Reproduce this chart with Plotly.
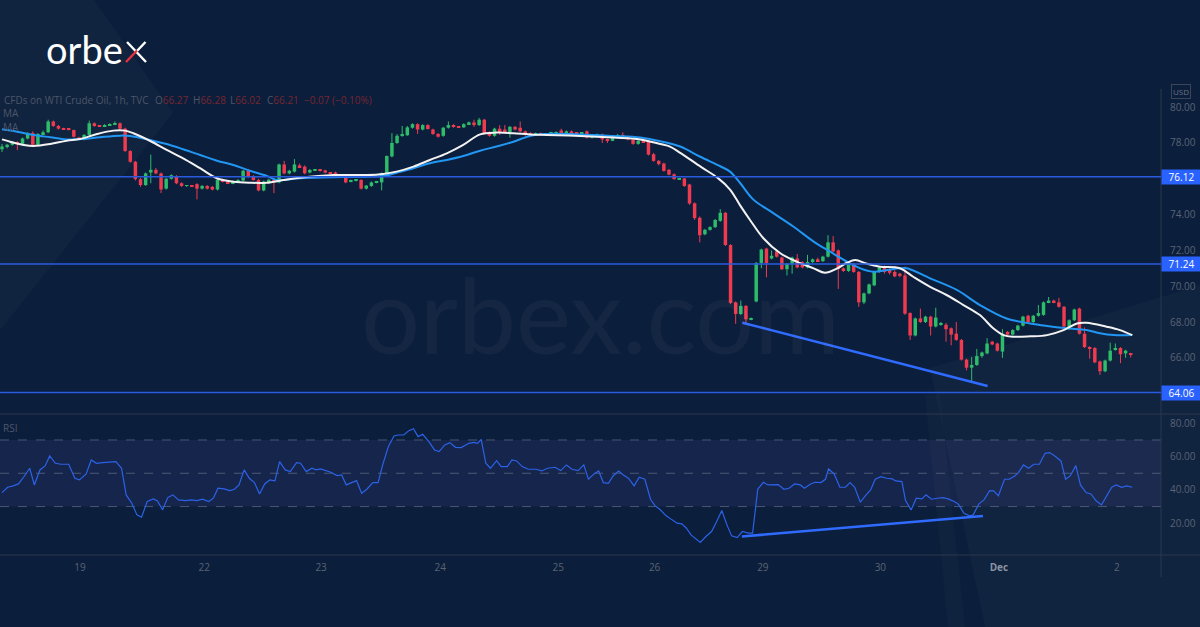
import plotly.graph_objects as go

W, H = 1200, 627
BG = '#0b1e3b'
GREEN = '#2ebd6b'
RED = '#ef3b50'
GREY = '#5a6475'
LEVEL_BLUE = '#2a5bdf'

# ---------------- data ----------------
opens = [77.65, 77.8, 77.9, 78.05, 77.95, 78.25, 78.55, 77.9, 78.5, 78.6,
         79.2, 78.95, 78.8, 78.78, 78.72, 78.3, 78.2, 78.45, 79.1, 78.97,
         78.93, 79.0, 79.03, 79.1, 78.8, 77.55, 76.95, 75.98, 75.65, 76.35,
         76.5, 76.3, 75.45, 76.0, 76.15, 75.75, 75.6, 75.62, 75.7, 75.45,
         75.6, 75.55, 75.4, 75.95, 75.85, 75.75, 75.85, 75.9, 76.45, 76.12,
         75.93, 75.35, 75.85, 75.95, 75.8, 76.8, 76.3, 76.4, 76.75, 76.68,
         76.35, 76.48, 76.5, 76.47, 76.33, 76.35, 76.22, 76.22, 75.85, 75.9,
         75.93, 75.45, 75.6, 75.8, 75.8, 76.3, 77.25, 78.0, 78.4, 78.43,
         78.85, 79.05, 78.75, 79.0, 78.75, 78.5, 78.4, 78.85, 79.0, 78.9,
         78.87, 79.05, 79.15, 79.0, 79.3, 78.6, 78.4, 78.8, 78.75, 78.6,
         78.9, 78.85, 78.65, 78.55, 78.48, 78.53, 78.45, 78.52, 78.56, 78.7,
         78.5, 78.65, 78.55, 78.52, 78.65, 78.3, 78.45, 78.48, 78.2, 78.12,
         78.35, 78.45, 78.35, 78.2, 77.95, 78.12, 78.1, 77.37, 77.0, 76.85,
         76.5, 76.25, 75.98, 76.02, 75.68, 74.63, 73.82, 72.9, 73.15, 73.3,
         73.65, 74.1, 72.3, 69.1, 68.45, 68.9, 68.15, 69.15, 71.3, 72.1,
         71.55, 71.95, 71.6, 70.95, 71.25, 71.55, 71.35, 71.05, 71.35, 71.5,
         71.4, 71.65, 72.45, 72.0, 71.0, 70.85, 71.25, 70.8, 69.1, 69.6,
         70.05, 70.8, 71.05, 70.9, 70.8, 70.7, 70.6, 68.5, 67.25, 68.2,
         68.0, 68.3, 67.75, 67.85, 67.85, 67.65, 67.35, 67.0, 65.9, 65.45,
         65.6, 66.1, 66.25, 66.9, 66.8, 66.35, 67.45, 67.3, 67.55, 67.8,
         68.35, 68.0, 68.35, 68.4, 69.1, 69.2, 69.1, 68.85, 67.6, 68.1,
         68.75, 67.35, 66.6, 66.55, 65.8, 65.25, 65.85, 66.45, 66.55, 66.25,
         66.27]
highs = [77.95, 77.95, 78.1, 78.1, 78.3, 78.6, 78.65, 78.55, 78.7, 79.3,
         79.25, 79.0, 78.85, 78.82, 78.75, 78.35, 78.5, 79.25, 79.15, 79.0,
         79.05, 79.1, 79.2, 79.15, 78.85, 77.6, 77.0, 76.05, 76.35, 77.35,
         76.6, 76.35, 76.05, 76.25, 76.2, 75.8, 75.65, 75.65, 75.75, 75.65,
         75.65, 75.6, 76.0, 76.0, 75.9, 75.9, 75.98, 76.5, 76.55, 76.2,
         76.0, 75.9, 76.0, 76.0, 76.85, 77.0, 76.5, 77.1, 76.85, 76.75,
         76.55, 76.55, 76.55, 76.5, 76.38, 76.4, 76.26, 76.25, 75.95, 75.98,
         75.98, 75.65, 75.85, 75.85, 76.35, 77.3, 78.55, 78.5, 78.95, 78.95,
         79.1, 79.1, 79.05, 79.05, 78.8, 78.55, 78.9, 79.2, 79.05, 78.95,
         79.1, 79.2, 79.3, 79.4, 79.35, 78.65, 78.85, 79.0, 79.0, 78.95,
         78.95, 79.2, 78.7, 78.6, 78.58, 78.58, 78.55, 78.62, 78.65, 78.8,
         78.7, 78.7, 78.58, 78.6, 78.7, 78.5, 78.52, 78.52, 78.25, 78.4,
         78.5, 78.6, 78.4, 78.25, 78.15, 78.2, 78.15, 77.45, 77.05, 76.9,
         76.55, 76.3, 76.05, 76.05, 75.72, 74.68, 73.9, 73.2, 73.35, 73.75,
         74.3, 74.15, 72.35, 69.15, 69.2, 68.95, 68.25, 71.35, 72.1, 72.15,
         72.0, 72.05, 71.65, 71.3, 71.65, 71.8, 71.4, 71.75, 71.55, 71.6,
         71.7, 72.85, 72.8, 72.05, 71.05, 71.3, 71.3, 70.85, 69.65, 70.15,
         70.85, 71.1, 71.15, 71.0, 70.9, 70.75, 71.1, 68.55, 68.25, 68.75,
         68.35, 68.35, 68.8, 68.0, 67.95, 67.7, 68.0, 67.05, 65.95, 66.05,
         66.5, 66.35, 67.1, 66.95, 66.85, 67.6, 67.5, 67.6, 67.85, 68.35,
         68.4, 68.4, 68.95, 69.15, 69.4, 69.25, 69.35, 68.9, 68.15, 68.75,
         68.8, 67.7, 66.65, 66.6, 65.85, 65.9, 66.85, 66.8, 66.6, 66.45,
         66.28]
lows = [77.5, 77.7, 77.85, 77.6, 77.9, 78.2, 77.85, 77.85, 78.45, 78.55,
        78.9, 78.75, 78.75, 78.7, 78.3, 78.18, 78.15, 78.4, 78.9, 78.9,
        78.9, 78.95, 79.0, 78.75, 77.5, 76.9, 75.9, 75.55, 75.6, 75.75,
        76.25, 75.2, 75.4, 75.95, 75.7, 75.55, 75.55, 75.55, 74.85, 75.4,
        75.4, 75.35, 75.35, 75.8, 75.7, 75.7, 75.8, 75.85, 76.05, 75.9,
        75.3, 75.3, 75.8, 75.2, 75.75, 76.25, 76.25, 76.35, 76.6, 76.25,
        76.3, 76.45, 76.4, 76.3, 76.28, 76.18, 76.17, 75.75, 75.8, 75.85,
        75.4, 75.4, 75.55, 75.75, 75.35, 76.25, 77.2, 77.95, 78.35, 78.4,
        78.8, 78.5, 78.7, 78.75, 78.45, 78.3, 78.35, 78.8, 78.85, 78.85,
        78.85, 79.0, 78.9, 78.95, 78.5, 78.35, 78.35, 78.45, 78.55, 78.3,
        78.7, 78.6, 78.4, 78.4, 78.45, 78.4, 78.4, 78.5, 78.5, 78.45,
        78.45, 78.5, 78.48, 78.48, 78.25, 78.25, 78.4, 78.0, 78.0, 78.1,
        78.3, 78.25, 78.15, 77.9, 77.9, 78.0, 77.3, 76.95, 76.75, 76.4,
        76.2, 75.95, 75.95, 75.55, 74.55, 73.7, 72.45, 72.85, 73.1, 73.25,
        73.6, 72.25, 69.0, 67.9, 68.4, 67.95, 68.1, 69.1, 71.0, 70.5,
        71.5, 71.6, 70.9, 70.6, 70.7, 71.0, 71.0, 71.0, 71.3, 71.35,
        71.35, 71.6, 71.9, 69.85, 70.8, 70.8, 70.75, 68.85, 69.0, 69.55,
        70.0, 70.75, 70.7, 70.65, 70.5, 70.5, 68.4, 67.0, 67.2, 67.95,
        67.95, 67.25, 67.7, 67.8, 66.9, 66.7, 66.95, 65.85, 65.3, 64.6,
        65.55, 66.0, 66.2, 66.7, 66.35, 66.0, 67.25, 67.25, 67.5, 67.75,
        67.95, 67.95, 68.3, 68.35, 69.05, 69.05, 68.8, 67.7, 67.55, 68.05,
        67.3, 66.55, 65.95, 65.7, 65.05, 65.2, 65.8, 66.4, 65.7, 66.0,
        66.02]
closes = [77.8, 77.9, 78.05, 77.95, 78.25, 78.5, 77.9, 78.5, 78.6, 79.2,
          78.95, 78.8, 78.78, 78.75, 78.35, 78.22, 78.45, 79.1, 78.95, 78.93,
          79.0, 79.05, 79.1, 78.8, 77.55, 76.95, 75.98, 75.65, 76.3, 76.5,
          76.3, 75.4, 76.0, 76.2, 75.75, 75.6, 75.62, 75.58, 75.45, 75.6,
          75.45, 75.4, 75.95, 75.85, 75.75, 75.85, 75.93, 76.45, 76.12, 75.93,
          75.35, 75.85, 75.95, 75.8, 76.8, 76.3, 76.45, 76.8, 76.65, 76.31,
          76.49, 76.52, 76.45, 76.35, 76.32, 76.22, 76.21, 75.8, 75.9, 75.93,
          75.45, 75.62, 75.8, 75.82, 76.3, 77.27, 78.0, 78.4, 78.47, 78.87,
          79.05, 78.75, 79.0, 78.78, 78.5, 78.35, 78.85, 79.0, 78.9, 78.87,
          79.05, 79.15, 79.0, 79.3, 78.55, 78.4, 78.8, 78.6, 78.6, 78.9,
          78.75, 78.65, 78.45, 78.48, 78.53, 78.45, 78.52, 78.58, 78.6, 78.5,
          78.65, 78.55, 78.52, 78.55, 78.3, 78.45, 78.48, 78.2, 78.12, 78.35,
          78.45, 78.3, 78.2, 77.95, 78.12, 78.05, 77.35, 77.0, 76.82, 76.44,
          76.23, 75.98, 76.02, 75.6, 74.62, 73.8, 72.85, 73.15, 73.3, 73.7,
          74.1, 72.3, 69.07, 68.45, 68.9, 68.15, 68.2, 71.3, 72.05, 71.3,
          71.7, 71.65, 70.95, 71.25, 71.6, 71.05, 71.05, 71.35, 71.5, 71.4,
          71.65, 72.45, 71.95, 70.97, 70.85, 71.25, 70.8, 69.1, 69.6, 70.1,
          70.8, 71.05, 70.8, 70.75, 70.55, 70.58, 68.47, 67.25, 68.2, 68.0,
          68.3, 67.75, 68.25, 67.95, 67.6, 67.3, 67.0, 65.9, 65.45, 65.6,
          66.1, 66.3, 66.8, 66.75, 66.4, 67.35, 67.3, 67.55, 67.8, 68.3,
          68.0, 68.35, 68.5, 69.1, 69.2, 69.1, 68.85, 67.75, 68.1, 68.7,
          67.35, 66.6, 66.5, 65.75, 65.25, 65.85, 66.4, 66.55, 66.2, 66.4,
          66.21]

# moving averages (bar position, value)
ma_fast_x = [0, 1.6, 4.2, 6.1, 9.4, 12.6, 15.2, 18.5, 21.7, 24, 25.6, 28.9, 32.1, 35.3,
             38.6, 41.9, 45.1, 48.3, 51.6, 54.8, 58.1, 64.6, 71.1, 74.3, 76.9, 80.2, 83.4,
             86.7, 89.9, 93.2, 96.4, 99.7, 102.9, 106.2, 112.7, 119.2, 124.4, 128.3, 130.2,
             132.2, 136.3, 139.5, 141.9, 143.9, 145.8, 148.4, 151.7, 154.9, 158.2, 160.4,
             162.7, 164.7, 166.3, 168.6, 171.1, 175, 177.6, 180.9, 184.1, 187.4, 190.6,
             193.2, 195.2, 197.1, 200.4, 203.7, 206.9, 209.5, 211.4, 215.3, 217.9, 220.3]
ma_fast_v = [78.2, 78.07, 77.89, 77.83, 77.94, 78.13, 78.22, 78.5, 78.69, 78.69, 78.54,
             78.11, 77.61, 77.14, 76.59, 76.03, 75.84, 75.78, 75.78, 75.93, 76.06, 76.21,
             76.21, 76.27, 76.4, 76.68, 77.05, 77.42, 77.89, 78.48, 78.58, 78.54, 78.48,
             78.45, 78.39, 78.3, 78.2, 77.94, 77.8, 77.45, 76.65, 76.05, 75.4, 74.5, 73.7,
             72.68, 71.84, 71.37, 71.0, 70.75, 70.98, 71.31, 71.46, 71.25, 71.09, 71.0,
             70.53, 69.97, 69.51, 68.95, 68.39, 67.65, 67.27, 67.18, 67.2, 67.27, 67.55,
             67.92, 67.96, 67.74, 67.55, 67.27]
ma_slow_x = [0, 2.9, 6.1, 9.4, 12.6, 15.8, 19.1, 23, 25, 28.8, 32.1, 35.3, 38.6, 41.9,
             45.1, 48.3, 51.6, 53.5, 54.8, 58.1, 64.6, 71.1, 74.3, 76.9, 80.2, 83.4, 86.7,
             89.9, 93.2, 96.4, 99.7, 102.9, 106.2, 112.7, 119.2, 124.4, 128.3, 132.2,
             136.1, 140, 141.9, 143.9, 146.4, 150.4, 154.3, 158.2, 161.4, 164.7, 167.3,
             169.8, 172.5, 175, 176.4, 180.9, 186.1, 190.6, 195.8, 200.4, 203.7, 207.6,
             211.4, 214, 216.7, 220.3]
ma_slow_v = [78.76, 78.63, 78.45, 78.32, 78.2, 78.22, 78.32, 78.41, 78.39, 78.17, 77.94,
             77.65, 77.33, 77.01, 76.77, 76.45, 76.16, 75.93, 75.93, 76.03, 76.08, 76.12,
             76.15, 76.34, 76.59, 76.87, 77.05, 77.27, 77.57, 77.8, 78.07, 78.39, 78.5,
             78.48, 78.39, 78.3, 78.1, 77.8, 77.23, 76.7, 76.4, 75.75, 74.85, 74.07, 73.32,
             72.49, 71.93, 71.37, 71.0, 70.81, 70.9, 71.0, 71.0, 70.44, 69.79, 68.95, 68.2,
             67.92, 67.78, 67.65, 67.55, 67.37, 67.27, 67.27]

rsi_x = [0, 1.1, 2.2, 3.2, 4.2, 5.4, 6.3, 7.4, 8.4, 9.3, 10.4, 11.5, 13, 14.2, 15.1, 16.4,
         17.4, 18.4, 19.6, 21.2, 22.2, 23.3, 24.2, 25.3, 26.3, 27.2, 28.3, 29.5, 30.3, 31.3,
         32.3, 33.3, 34.4, 35.8, 36.9, 38, 39.1, 40.3, 41.2, 42.1, 43.3, 44.4, 45.3, 46.2,
         47.2, 48.2, 49.2, 50.2, 51.2, 52.2, 53.2, 54.1, 55.2, 56.2, 57.4, 58.2, 59.3, 60.4,
         61.2, 62.1, 63.2, 64.1, 65.3, 66.2, 67.1, 68.1, 69.1, 70.1, 71.1, 72.3, 73.3, 74.2,
         75.3, 76.4, 77.2, 78.3, 79.3, 80.2, 81.1, 82, 83.2, 84.3, 85.2, 86.3, 87.3, 88.4,
         89.5, 91, 92, 92.7, 93.4, 94.3, 95.2, 96.4, 97.3, 98.5, 99.4, 100.3, 101.4, 102.6,
         104.1, 105.2, 106.3, 107.8, 108.9, 110, 111.1, 112.3, 113.4, 114.3, 115.4, 116.3,
         117.2, 118.2, 119.1, 120.2, 121.1, 122.1, 123.2, 124.2, 125.3, 126.4, 127.3, 128.2,
         129.4, 130.6, 131.6, 132.5, 133.4, 134.3, 135.3, 136.1, 137.2, 138.3, 139.3, 140.3,
         141.3, 142.2, 143.3, 144.3, 145.5, 146.3, 147.3, 148.4, 149.3, 150.4, 151.3, 152.4,
         153.4, 154.5, 155.6, 156.4, 157.6, 158.5, 159.6, 160.5, 161.1, 162.2, 163.3, 164.4,
         165.3, 166.2, 167.3, 168.3, 169.3, 170.2, 171.3, 172.4, 173.5, 174.2, 175.4, 176.1,
         177.2, 178.2, 179.3, 180.1, 181.2, 182.3, 183.4, 184.4, 185.6, 186.4, 187.5, 188.6,
         189.3, 190.4, 191.4, 192.5, 193.3, 194.2, 195.4, 196.3, 197.4, 198.1, 199.1, 200.1,
         201.1, 202.2, 203.3, 204.2, 205.2, 206.4, 207.3, 208.2, 209.3, 210.2, 211.3, 212.3,
         213.2, 214.3, 215.4, 216.3, 217.2, 218.2, 219.2, 220.3]
rsi_v = [38.4, 41.6, 42.4, 43.6, 47.6, 53, 43, 52, 54.4, 60.4, 56, 55.4, 55.4, 47, 46, 49.6,
         58, 56, 56.4, 57, 57, 53, 37, 32, 25, 23.6, 33, 34.6, 33.4, 28,
         35.4, 37, 34, 33.6, 34, 33.6, 34.4, 33, 35, 41, 40.6, 39.6, 40.4, 43,
         52, 47, 44.4, 37.6, 43.6, 46, 45.4, 57, 52, 51, 56.4, 56, 51, 53,
         52, 52.6, 51.6, 50.6, 48.6, 49, 43, 44.4, 45.6, 38, 40.4, 44.4, 44.4, 55,
         66, 72.4, 73, 73, 75.6, 76.8, 72, 73.4, 69, 64, 63, 67, 68.4, 65.6,
         65.4, 68, 68.6, 68, 70.4, 56, 53, 57.6, 54, 54, 58, 57.4, 54, 52.4,
         52.4, 51.4, 53, 53.6, 51.6, 55, 52.4, 51.6, 55, 46.4, 49.6, 51.4,
         44.4, 44, 48.4, 51.4, 49, 47, 42.4, 47.6, 46.4, 34.4, 30.4, 28.4,
         24.6, 22, 20, 19.6, 17, 13, 10.6, 8.4, 12, 15, 21, 27.6,
         19, 12.4, 11.4, 15, 14, 14, 40.4, 44.6, 43, 43, 43.2, 40.4,
         41, 43.6, 43, 41, 43.6, 44.6, 44.4, 46.4, 52.6, 49.6, 41.6, 41.6,
         44.4, 41.6, 32.6, 36.6, 40, 46.4, 48, 47, 46.6, 45.4, 45, 33.6,
         28, 35, 34.6, 37, 34.4, 35, 35.4, 34.6, 33, 31.4, 26, 24.4,
         25, 31.6, 34, 39.6, 39.4, 36.4, 46.4, 46.4, 48.4, 50.4, 55, 53,
         55.4, 55.4, 62, 62.4, 60.4, 57.4, 46.4, 48.4, 54.6, 43, 38.4, 37.4,
         33.6, 31, 36.6, 41.6, 43, 41.6, 42.4, 41.6]

levels = [76.12, 71.24, 64.06]
price_trend_x = [144.3, 192.1]
price_trend_v = [67.96, 64.43]
rsi_trend_x = [144.2, 191.2]
rsi_trend_v = [12.0, 24.4]

day_ticks = [15.2, 39.4, 62.2, 85.4, 108.4, 127.2, 148.3, 171.2, 194.3, 217.3]
day_labels = ['19', '22', '23', '24', '25', '26', '29', '30',
              "<b><span style='color:#8a93a3'>Dec</span></b>", '2']
price_ticks = [66, 68, 70, 72, 74, 78, 80]
rsi_ticks = [20, 40, 60, 80]

# ---------------- figure ----------------
def px(x):
    return x / W

def py(y):
    return 1 - y / H

n = len(closes)
idx = list(range(n))
up = [c >= o for o, c in zip(opens, closes)]
body_base = [min(o, c) for o, c in zip(opens, closes)]
body_h = [max(abs(c - o), 0.05) for o, c in zip(opens, closes)]
body_col = [GREEN if u else RED for u in up]

fig = go.Figure()

for sel, col in [(True, GREEN), (False, RED)]:
    wx, wy = [], []
    for i in idx:
        if up[i] == sel:
            wx += [i, i, None]
            wy += [lows[i], highs[i], None]
    fig.add_trace(go.Scatter(x=wx, y=wy, mode='lines', line=dict(color=col, width=1),
                             xaxis='x', yaxis='y', hoverinfo='skip'))

fig.add_trace(go.Bar(x=idx, y=body_h, base=body_base, width=0.68,
                     marker=dict(color=body_col, line=dict(width=0)),
                     xaxis='x', yaxis='y'))

fig.add_trace(go.Scatter(x=ma_slow_x, y=ma_slow_v, mode='lines', line_shape='spline',
                         line=dict(color='#2196f3', width=2), xaxis='x', yaxis='y'))
fig.add_trace(go.Scatter(x=ma_fast_x, y=ma_fast_v, mode='lines', line_shape='spline',
                         line=dict(color='#f2f2f2', width=2), xaxis='x', yaxis='y'))
fig.add_trace(go.Scatter(x=price_trend_x, y=price_trend_v, mode='lines',
                         line=dict(color='#2f6bff', width=2.5), xaxis='x', yaxis='y'))

fig.add_trace(go.Scatter(x=rsi_x, y=rsi_v, mode='lines',
                         line=dict(color='#2c62e8', width=1.2), xaxis='x2', yaxis='y2'))
fig.add_trace(go.Scatter(x=rsi_trend_x, y=rsi_trend_v, mode='lines',
                         line=dict(color='#2f6bff', width=2.5), xaxis='x2', yaxis='y2'))

XR = [-0.39, 225.9]
XD = [0, 1161 / W]
tickfont = dict(family='Open Sans, Liberation Sans, sans-serif', size=10, color=GREY)

fig.update_layout(
    width=W, height=H, margin=dict(l=0, r=0, t=0, b=0),
    paper_bgcolor=BG, plot_bgcolor='rgba(0,0,0,0)', template='none',
    showlegend=False, barmode='overlay',
    xaxis=dict(domain=XD, range=XR, anchor='y', visible=False, fixedrange=True),
    xaxis2=dict(domain=XD, range=XR, anchor='y2', showgrid=False, zeroline=False,
                showline=False, ticks='', tickvals=day_ticks, ticktext=day_labels,
                tickfont=tickfont, ticklabelstandoff=5, automargin=False),
    yaxis=dict(domain=[py(413), py(88)], range=[62.92, 81.07], anchor='x', side='right',
               showgrid=False, zeroline=False, showline=False, ticks='',
               tickvals=price_ticks, ticktext=['%.2f' % v for v in price_ticks],
               tickfont=tickfont, ticklabelstandoff=8, automargin=False),
    yaxis2=dict(domain=[py(555), py(414)], range=[0.9, 85.6], anchor='x2', side='right',
                showgrid=False, zeroline=False, showline=False, ticks='',
                tickvals=rsi_ticks, ticktext=['%.2f' % v for v in rsi_ticks],
                tickfont=tickfont, ticklabelstandoff=8, automargin=False),
)

shapes = []
# faint background decorations
shapes.append(dict(type='path', xref='paper', yref='paper', layer='below',
                   path=f'M 0,{py(0)} L {px(94)},{py(0)} L {px(173)},{py(113)} L 0,{py(330)} Z',
                   fillcolor='rgba(255,255,255,0.022)', line=dict(width=0)))
shapes.append(dict(type='path', xref='paper', yref='paper', layer='below',
                   path=f'M {px(930)},{py(368)} L 1,{py(285)} L 1,0 L {px(985)},0 Z',
                   fillcolor='rgba(255,255,255,0.025)', line=dict(width=0)))
shapes.append(dict(type='path', xref='paper', yref='paper', layer='below',
                   path=f'M {px(925)},{py(395)} L {px(940)},{py(395)} L {px(965)},0 L {px(948)},0 Z',
                   fillcolor='rgba(255,255,255,0.02)', line=dict(width=0)))
# RSI band and guides
shapes.append(dict(type='rect', xref='paper', yref='y2', x0=0, x1=XD[1], y0=30, y1=70,
                   fillcolor='rgba(126,110,220,0.10)', line=dict(width=0), layer='below'))
for v in [70, 50, 30]:
    shapes.append(dict(type='line', xref='paper', yref='y2', x0=0, x1=XD[1], y0=v, y1=v,
                       line=dict(color='rgba(130,140,160,0.5)', width=1, dash='dash'), layer='below'))
# pane separators / axis lines
sep = '#2b384d'
shapes.append(dict(type='line', xref='paper', yref='paper', x0=0, x1=1, y0=py(414), y1=py(414),
                   line=dict(color=sep, width=1)))
shapes.append(dict(type='line', xref='paper', yref='paper', x0=0, x1=1, y0=py(555), y1=py(555),
                   line=dict(color=sep, width=1)))
shapes.append(dict(type='line', xref='paper', yref='paper', x0=XD[1], x1=XD[1], y0=py(89), y1=py(577),
                   line=dict(color=sep, width=1)))
# horizontal levels
for lv in levels:
    shapes.append(dict(type='line', xref='paper', yref='y', x0=0, x1=XD[1], y0=lv, y1=lv,
                       line=dict(color=LEVEL_BLUE, width=1.5), layer='above'))
# logo x strokes
shapes.append(dict(type='line', xref='paper', yref='paper', x0=px(127), y0=py(42), x1=px(146), y1=py(62),
                   line=dict(color='white', width=2.4)))
shapes.append(dict(type='line', xref='paper', yref='paper', x0=px(136.5), y0=py(51.5), x1=px(145.5), y1=py(42),
                   line=dict(color='white', width=2.4)))
shapes.append(dict(type='line', xref='paper', yref='paper', x0=px(126), y0=py(62), x1=px(137), y1=py(50.5),
                   line=dict(color='#e8313f', width=2.4)))
fig.update_layout(shapes=shapes)

ann = []

def text(t, x, y, size, color, xanchor='left', family='Open Sans, Liberation Sans, sans-serif', **kw):
    ann.append(dict(text=t, x=px(x), y=py(y), xref='paper', yref='paper', showarrow=False,
                    xanchor=xanchor, yanchor='middle', font=dict(size=size, color=color, family=family), **kw))

HDR = '#4d5668'
VAL = '#772632'
text('CFDs on WTI Crude Oil, 1h, TVC', 2, 100, 10, HDR)
text(f"O<span style='color:{VAL}'>66.27</span>", 152.7, 100, 10, HDR)
text(f"H<span style='color:{VAL}'>66.28</span>", 190.7, 100, 10, HDR)
text(f"L<span style='color:{VAL}'>66.02</span>", 228.3, 100, 10, HDR)
text(f"C<span style='color:{VAL}'>66.21</span>", 265, 100, 10, HDR)
text(f"<span style='color:{VAL}'>−0.07 (−0.10%)</span>", 301.7, 100, 10, HDR)
text('MA', 1, 113, 10, HDR)
text('MA', 1, 127, 10, HDR)
text('RSI', 1, 428, 10, HDR)

# watermark
text('orbex.com', 600, 313, 104, 'rgba(255,255,255,0.04)', xanchor='center', family='Lato, sans-serif')
# logo
text('orbe', 44, 49, 38, 'white', family='Lato, sans-serif')

# USD badge (kept clear of the 80.00 tick label)
text('USD', 1180.5, 92, 8, '#6b7484', xanchor='center', bgcolor=BG,
     bordercolor='#3a4558', borderwidth=1, borderpad=1)

for lv in levels:
    ann.append(dict(text='%.2f' % lv, x=XD[1], y=lv, xref='paper', yref='y', showarrow=False,
                    xanchor='left', yanchor='middle', width=37, height=12, align='center',
                    bgcolor='#2962ff', font=dict(size=10, color='white',
                                                  family='Open Sans, Liberation Sans, sans-serif')))

fig.update_layout(annotations=ann)

fig.write_html('out.html', config={'displayModeBar': False},
               post_script="document.body.style.margin='0';")
